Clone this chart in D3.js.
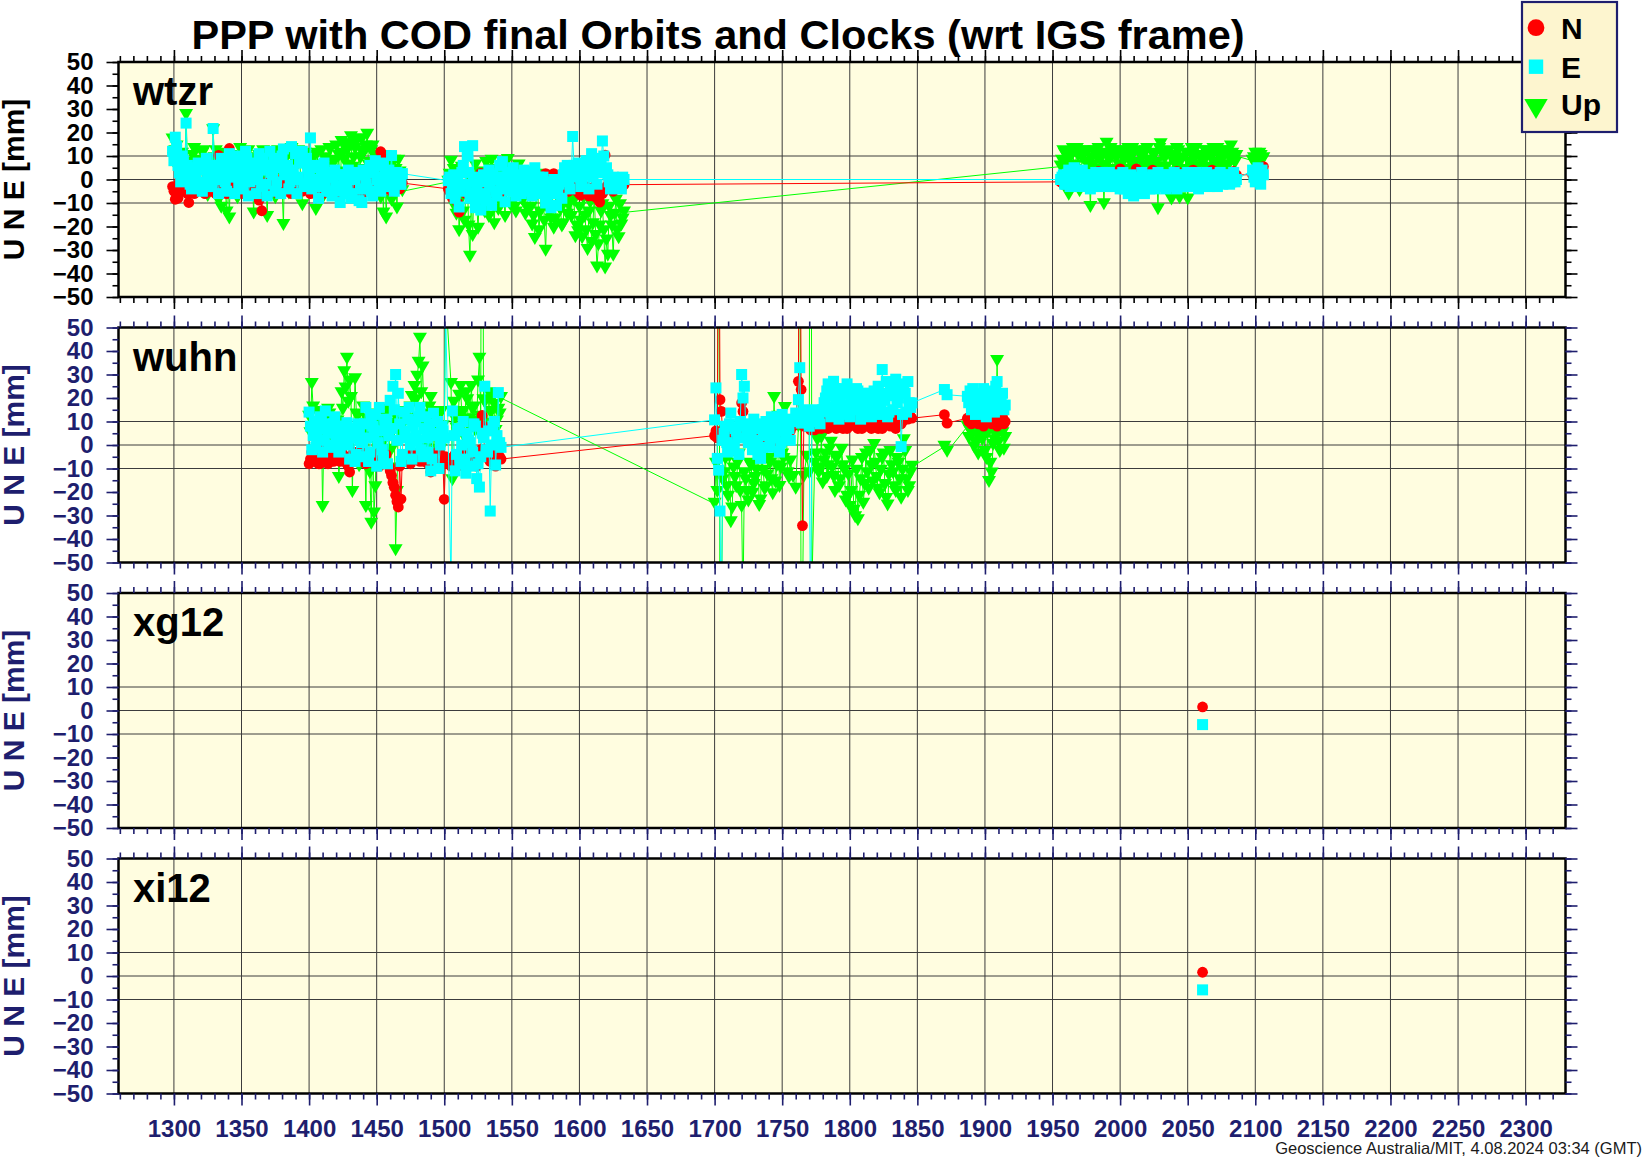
<!DOCTYPE html>
<html>
<head>
<meta charset="utf-8">
<script src="https://cdn.jsdelivr.net/npm/d3@7"></script>
<style>
html,body{margin:0;padding:0;background:#fff;}
svg{display:block;}
</style>
</head>
<body>
<svg id="chart" width="1644" height="1158"></svg>
<script>
// ---------------- data ----------------
const chartTitle = "PPP with COD final Orbits and Clocks (wrt IGS frame)";
const footerText = "Geoscience Australia/MIT, 4.08.2024 03:34 (GMT)";
const stationNames = ["wtzr", "wuhn", "xg12", "xi12"];
const componentNames = ["N", "E", "Up"];
const yAxisTitle = "U N E [mm]";
const xTickLabels = [1300,1350,1400,1450,1500,1550,1600,1650,1700,1750,1800,1850,1900,1950,2000,2050,2100,2150,2200,2250,2300];
const yTickLabels = [-50,-40,-30,-20,-10,0,10,20,30,40,50];
const gridYValues = [-10,0,10];

// wtzr : main epochs
const wtzrDay = [
 1299,1301,1303,1305,1307,1309,1311,1313,1315,1317,
 1319,1321,1323,1325,1327,1329,1331,1333,1335,1337,
 1339,1341,1343,1345,1347,1349,1351,1353,1355,1357,
 1359,1361,1363,1365,1367,1369,1371,1373,1375,1377,
 1379,1381,1383,1385,1387,1389,1391,1393,1395,1397,
 1399,1401,1403,1405,1407,1409,1411,1413,1415,1417,
 1419,1421,1423,1425,1427,1429,1431,1433,1435,1437,
 1439,1441,1443,1445,1447,1449,1451,1453,1455,1457,
 1459,1461,1463,1465,1467,1469,
 1503,1505,1507,1509,1511,1513,1515,1517,1519,1521,
 1523,1525,1527,1529,1531,1533,1535,1537,1539,1541,
 1543,1545,1547,1549,1551,1553,1555,1557,1559,1561,
 1563,1565,1567,1569,1571,1573,1575,1577,1579,1581,
 1583,1585,1587,1589,1591,1593,1595,1597,1599,1601,
 1603,1605,1607,1609,1611,1613,1615,1617,1619,1621,
 1623,1625,1627,1629,1631,1633,
 1956,1958,1960,1962,1964,1966,1968,1970,1972,1974,
 1976,1978,1980,1982,1984,1986,1988,1990,1992,1994,
 1996,1998,2000,2002,2004,2006,2008,2010,2012,2014,
 2016,2018,2020,2022,2024,2026,2028,2030,2032,2034,
 2036,2038,2040,2042,2044,2046,2048,2050,2052,2054,
 2056,2058,2060,2062,2064,2066,2068,2070,2072,2074,
 2076,2078,2080,2082,2084,2086,
 2098,2100,2102,2104,2106
];
const wtzrN = [
 -3,-8.4,-8,-5,-2,-4,-9.8,-3,-6,0,
 -4,-2,-6,1,-5,-3,-6,10.3,-4,-2,
 -6,13.2,-3,0,-5,-2,-6,-1,-4,-3,
 -5,-1,-8.8,-13.3,-3,-6,0,-4,-2,-6,
 -3,1,-5,-2,-6,-1,-4,-3,-5,0,
 -2,-6,-1,-4,-7,-2,0,-5,-3,-6,
 -1,-4,-7,-2,-5,0,-6,-3,-1,-5,
 -6,-2,-4,1,-5,-2,-3,11.8,9,-4,
 -2,-5,-1,-3,-4,-1.5,
 -4,-6,-1,-5,-13.9,-3,-2,-4,-7,-3,
 -5,-1,2.6,0,-2,-6,-3,-1,-4,-2,
 -5,-3,0,-4,-2,-1,-5,-3,0,-4,
 -2,-1,-5,-3,0,-2,2.5,2,-3,2.5,
 -4,-1,-3,-2,-5,-1,-3,-4,-2,-6.7,
 -5,-3,-7,-4,-3,-8,-9.6,-6,10.4,-4,
 -2,-5,-3,-1,-4,-2.2,
 -1,-2,1,2,0,1,-1,2,1,0,
 0,1,-1,1,3.5,1,0,2,1,0,
 1,2,4.5,1,0,0,2,1,4.5,1,
 0,0,2,1,4,1,0,2,1,0,
 2,1,0,3.5,1,0,1,2,0,4,
 0,1,2,1,0,2,4,1,0,1,
 0,1,2,1,3.5,2,
 2,0,3,4,5.5
];
const wtzrE = [
 12,18,6,-1,8,24,2,-4,5,-2,
 4,-5,6,1,-3,21.7,3,-6,9,2,
 -5,11,4,-6,10,0,-4,12,-7,6,
 1,-6,11,-3,5,-7,12,2,-5,9,
 -6,13,3,-4,14,0,-6,8,12,-3,
 5,17.7,-2,6,-8,3,7,-5,1,-7,
 4,-3,-9.8,2,-6,4,-8,0,3,-9,
 -9.8,2,-4,6,-7,8,1,-5,7,-3,
 4,10.2,-5,3,-2,2.5,
 -0.5,-6,2,-4,-11.7,3,14,10,-8,14.4,
 -12,1,-13,2,-9,4,-11,0,-7,6,
 7.6,-9.5,3,-5,5,-7,2,-6,4,-4,
 3,-7,5,-2,-6,1,-10,-1,-12,0,
 -11,-2,-8,5,6,-4,18.3,4,7,-3,
 2,8,-4,11,5,-2,9,16.4,3,2,
 -4,1,-3,0,-4,0,
 0,2,-2,4,-1,5,-3,1,4,-3,
 2,-4,0,3,-3,2,-2,1,3,-3,
 0,2,-4,3,-1,-6,2,-7,1,-5,
 3,-6,0,-4,2,-4,3,-3,1,-4,
 2,-3,3,-4,0,2,-3,3,-3,1,
 3,-4,2,-2,3,-3,0,2,-3,3,
 -2,1,2,-1,3,0,
 4,-1,5,-2,2
];
const wtzrU = [
 17,12,4,-6,10,27.4,2,-5,13,6,
 -3,11,5,-7,8,21,12,-9,-12,4,
 -14,-16.6,9,3,-8,13,-2,7,12,-5,
 -14.5,6,10,-4,2,-16,11,5,-8,12,
 3,-19.4,9,-6,13,4,-3,8,-11,11,
 6,-4,10,-13,2,12,-7,5,13,-2,
 8,3,-9,11,15,6,18,9,16,4,
 17,12,19,7,14,2,10,-8,-14.5,-16.6,
 5,-9,8,-12.3,3,-5,
 -1,7.6,4,-15,-22,5,-18,2,-32.9,-24,
 6,-21,3,-12,7,-16,8,-19,2,-9,
 5,-16,8.3,-11,4,-14,6,-8,3,-12,
 -6,-19.6,-25.3,2,-14,1,-30.3,-9,-17,-21,
 0,-12,-20,-5,-15,-10,-3,-24.6,-22.4,-18,
 -8,-22,-14,-27,-6,-37.4,-20,-11,-37.9,-32.4,
 -16,-32.4,-9,-25,-19.6,-14,
 5.5,12,7,-6.5,11,4,13,-5,9,2,
 12,-11.7,6,10,13,4,-10.5,15.2,8,11,
 3,12,6,10,2,13,7,11,4,12,
 9,3,13,6,11,2,-12.7,15,10,5,
 12,-8.5,7,13,-8,9,4,-8.5,11,6,
 13,3,10,8,12,5,11,7,13,4,
 9,12,6,14,8,10,
 8,11,6,10,9
];

// wtzr : in-between epochs
const wtzrDayFill = [
 1300,1302,1304,1306,1308,1310,1312,1314,1316,1318,
 1320,1322,1324,1326,1328,1330,1332,1334,1336,1338,
 1340,1342,1344,1346,1348,1350,1352,1354,1356,1358,
 1360,1362,1364,1366,1368,1370,1372,1374,1376,1378,
 1380,1382,1384,1386,1388,1390,1392,1394,1396,1398,
 1400,1402,1404,1406,1408,1410,1412,1414,1416,1418,
 1420,1422,1424,1426,1428,1430,1432,1434,1436,1438,
 1440,1442,1444,1446,1448,1450,1452,1454,1456,1458,
 1460,1462,1464,1466,1468,
 1504,1506,1508,1510,1512,1514,1516,1518,1520,1522,
 1524,1526,1528,1530,1532,1534,1536,1538,1540,1542,
 1544,1546,1548,1550,1552,1554,1556,1558,1560,1562,
 1564,1566,1568,1570,1572,1574,1576,1578,1580,1582,
 1584,1586,1588,1590,1592,1594,1596,1598,1600,1602,
 1604,1606,1608,1610,1612,1614,1616,1618,1620,1622,
 1624,1626,1628,1630,1632,
 1957,1959,1961,1963,1965,1967,1969,1971,1973,1975,
 1977,1979,1981,1983,1985,1987,1989,1991,1993,1995,
 1997,1999,2001,2003,2005,2007,2009,2011,2013,2015,
 2017,2019,2021,2023,2025,2027,2029,2031,2033,2035,
 2037,2039,2041,2043,2045,2047,2049,2051,2053,2055,
 2057,2059,2061,2063,2065,2067,2069,2071,2073,2075,
 2077,2079,2081,2083,2085,
 2099,2101,2103,2105
];
const wtzrNFill = [
 -5,-3,-1,-4,-2,-6,-3,0,-4,-2,
 -3,-5,-1,-2,-4,0,-3,-5,-2,-1,
 -4,-2,-5,-1,-3,-4,-2,0,-3,-5,
 -2,-4,-1,-3,-5,-2,0,-4,-3,-1,
 -4,-2,-3,-5,-1,-3,-2,-4,0,-3,
 -5,-2,-4,-1,-3,-6,-2,-4,-3,-1,
 -4,-2,-5,-3,-1,-4,-2,-6,-3,-2,
 -3,-5,-1,-4,-2,-3,-5,-2,-1,-3,
 -2,-4,-1,-3,-2,
 -5,-8,-3,-10,-2,-4,-6,-3,-5,-1,
 0,-2,-4,-1,-3,-5,-2,-4,-1,-3,
 -2,-4,-1,-3,-5,-2,0,-3,-1,-4,
 -2,-3,-1,0,1,-2,-4,-1,-3,-2,
 -3,-1,-4,-2,-5,-3,-4,-5,-6,-4,
 -5,-6,-4,-7,-5,-8,-6,-5,-3,-2,
 -4,-1,-3,-2,-1,
 0,1,-1,1,0,0,1,1,-1,0,
 0,1,1,-1,0,1,0,1,0,0,
 1,0,0,1,1,0,0,1,1,0,
 1,0,0,1,1,0,1,0,1,0,
 0,1,0,1,0,1,0,1,1,0,
 1,0,1,1,0,0,1,0,1,0,
 1,0,1,1,0,
 1,2,3,2
];
const wtzrEFill = [
 8,14,3,10,0,6,-2,4,1,7,
 -1,5,9,2,-3,6,0,4,7,-1,
 5,1,8,3,-3,6,2,9,-1,4,
 7,0,4,9,-2,6,3,8,-1,5,
 10,2,6,-1,4,11,1,7,-2,9,
 2,-4,5,0,-3,4,-1,3,-5,1,
 -3,2,-5,1,-2,3,-6,0,2,-4,
 4,-2,3,-5,5,0,-3,6,2,-1,
 1,-3,2,0,-2,
 1,-3,-8,0,-5,6,-2,3,-6,-1,
 -4,-8,-1,-6,0,-3,2,-5,1,-2,
 -4,0,-2,-4,1,-3,0,-1,-5,2,
 -3,0,-4,1,-5,-3,-8,-4,-6,-2,
 -5,0,2,4,-1,3,6,1,4,0,
 5,2,7,1,8,3,6,10,5,-1,
 -2,0,-3,-1,1,
 1,-2,2,-3,0,3,-1,2,-2,0,
 -1,2,-3,1,-2,3,0,-3,1,-1,
 -2,1,-1,-4,0,-3,-5,0,-2,-4,
 -2,1,-3,0,-2,1,-1,-3,2,-2,
 0,-2,1,-1,2,-3,0,1,-2,0,
 1,-1,0,2,-2,1,-1,0,2,-1,
 0,2,-2,1,-1,
 1,3,0,4
];
const wtzrUFill = [
 9,14,5,11,0,7,3,10,-2,8,
 4,12,1,7,-4,9,5,2,11,-3,
 6,10,0,8,4,-5,11,3,7,1,
 9,-4,5,12,2,8,-1,10,4,6,
 -3,11,5,1,9,7,12,0,6,10,
 3,8,-5,11,6,1,9,4,13,7,
 14,10,16,8,12,15,5,13,17,9,
 11,14,6,12,3,9,-4,7,10,2,
 6,-3,4,8,0,
 2,-6,-12,-3,-9,-14,-4,-20,-8,0,
 -10,-5,2,-14,-7,4,-11,-3,-13,1,
 -7,3,-10,-2,-12,-5,0,-9,-15,-4,
 -12,-16,-7,-22,-3,-18,-10,-14,-6,-17,
 -8,-13,-19,-4,-11,-16,-9,-20,-12,-25,
 -16,-30,-10,-19,-24,-28,-14,-22,-26,-12,
 -20,-15,-22,-11,-17,
 8,11,4,9,13,6,10,3,12,7,
 5,9,12,2,8,11,6,10,13,4,
 9,6,12,8,4,10,13,7,3,11,
 6,12,8,4,10,7,13,5,9,11,
 3,10,6,12,8,4,11,7,13,9,
 5,10,7,12,4,9,13,6,10,8,
 12,5,9,11,7,
 9,7,11,8
];

// wuhn : main epochs
const wuhnDay = [
 1400,1402,1404,1406,1408,1410,1412,1414,1416,1418,
 1420,1422,1424,1426,1428,1430,1432,1434,1436,1438,
 1440,1442,1444,1446,1448,1450,1452,1454,1456,1458,
 1460,1462,1464,1466,1468,1470,1472,1474,1476,1478,
 1480,1482,1484,1486,1488,1490,1492,1494,1496,1498,
 1500,1501,1505,1506,1508,1510,1512,1514,1516,1518,
 1520,1522,1524,1526,1528,1530,1532,1534,1536,1538,
 1540,1542,
 1700,1701,1702,1703,1704,1705,1706,1708,1710,1712,
 1714,1716,1718,1720,1721,1722,1724,1726,1728,1730,
 1732,1734,1736,1738,1740,1742,1744,1746,1748,1750,
 1752,1754,1756,
 1758,1760,1762,1763,1764,1765,1766,1768,1770,1771,1772,
 1774,1776,1778,1780,1782,1784,1786,1788,1790,1792,
 1794,1796,1798,1800,1802,1804,1806,1808,1810,1812,
 1814,1816,1818,1820,1822,1824,1826,1828,1830,1832,
 1834,1836,1838,1840,1842,1844,1846,
 1870,1872,
 1887,1889,1891,1893,1895,1897,1899,1901,1903,1905,
 1907,1909,1911,1913,1915
];
const wuhnN = [
 -8,-3,-7,-5,-8,-2,-6,-8,-4,-7,
 -3,-6,-2,-5,-8,-11.5,-4,-7,-3,-6,
 -2,-8,-5,-3,-8,-6,-9,-4,-7,-8,
 -11,-16,-21.4,-26.4,-23,-7,-5,-7,-3,-6,
 -4,-7,-2,-5,-8,-11.5,-4,-6,-3,-7,
 -23.1,-5,-9,-6,-4,-9,-7,-3,-8,-5,
 -2,-6,-9,-4,12.6,-5,-3,-7,-4,-9,
 -2,-6,
 4,6,3,150,19.3,14.3,5,2,6,1,
 4,3,5,17.9,14.3,4,2,5,1,4,
 3,6,2,5,3,1,4,6,2,5,
 3,4,6,
 8,9.3,27.1,150,23.6,-34.3,8,7.9,10,6.4,8,
 6.4,7,10,8,11,7,9,10,7,9,
 8,11,7,9,10,8,7,9,11,8,
 10,7,9,8,10,7,9,11,8,10,
 7,12,9,11,12,13,11.4,
 12.9,9.3,
 11.4,12,10,13,9,11,8,10,12,9,
 11,8,10,12,10
];
const wuhnE = [
 14,-2,10,3,12,-3,14.5,6,-1,9,
 2,-3,8,1,9.5,-6,5,-7,9,2,
 -5,16,-7,12,4,-9,16,-2,10,-8,
 19,25,30,22,-7,14,3,16,-6,10,
 2,16,-5,12,-3,-11,13.5,4,-10,8,
 3,58,-60,14.5,-11,6,-8,10,-12,2,
 -9,9,-14.3,-17.9,5,25,-3,-28.1,8,-8.5,
 22.3,-1,
 10.7,24.3,-5.7,-10.7,-28.1,-85,2,8,-3,13.6,
 0,6,-4,30,20,25,4,9,-2,7,
 -4,-5.7,5,10,-1,12,3,11,-3,13,
 6,11,2,
 10,13.6,19.3,32.9,9.3,12.1,15,14,8,-80,12,
 15,13,9,15,20,26,12,27.1,18,11,
 24,15,26,12,21,16,23,11,20,14,
 22,12,23,17,13,32.1,19,12,24,15,
 28,20,-0.7,26,14,18,17.9,
 23.6,21.4,
 20.7,23,24,13,21,15,24,12,19,23,
 14,27,18,22,17
];
const wuhnU = [
 12,26,-4,14,2,-26.4,10,15,-5,11,
 3,-14,22,31,36.7,27,-20,28,12,-8,
 16,-26.4,5,-33.5,-29.2,13,-6,10,2,15,
 -10,9,-44.8,12,4,14,-7,11,20.4,24.7,
 29,45.2,33,8,13,20,-3,12,6,14,
 2,65,26,-15,11,5,24.7,14,22,8,
 24.7,16,10,36.7,300,18,9,14,20,6,
 15,20,
 -25,-8,-20,150,-90,-75,-15,-6,-22,-32.9,
 -10,-18,-4,-26.4,-70,-12,-20,-8,-20.7,-14,
 -3,-23.6,-11,-18,-6,-15,20,-9,-17.9,-4,
 15.7,-12,-7,
 -13.6,-18.6,8,150,-80,-70,-13.6,-5,-12,300,-60,
 -8,2,-10,-16.4,-4,-9,1,-13.6,-6,-18,
 -2,-11,-22,-26.4,-7,-30.7,-32,-15,-25,-4,
 -19,-9,0,-14,-21,-6,-17,-25.7,-3,-12,
 -20,-8,-22.9,2,-15,-18,-9.3,
 -0.7,-2.9,
 7.9,6,5,1,-4,4,7,-6,-15.7,-12.1,
 2,35.7,-3,5,3
];

// wuhn : in-between epochs
const wuhnDayFill = [
 1401,1403,1405,1407,1409,1411,1413,1415,1417,1419,
 1421,1423,1425,1427,1429,1431,1433,1435,1437,1439,
 1441,1443,1445,1447,1449,1451,1453,1455,1457,1459,
 1461,1463,1465,1467,1469,1471,1473,1475,1477,1479,
 1481,1483,1485,1487,1489,1491,1493,1495,1497,1499,
 1507,1509,1511,1513,1515,1517,1519,1521,1523,1525,
 1527,1529,1531,1533,1535,1537,1539,1541,
 1707,1709,1711,1713,1715,1717,1719,
 1723,1725,1727,1729,1731,1733,1735,1737,1739,1741,
 1743,1745,1747,1749,1751,1753,1755,
 1775,1777,1779,1781,1783,1785,1787,1789,1791,1793,
 1795,1797,1799,1801,1803,1805,1807,1809,1811,1813,
 1815,1817,1819,1821,1823,1825,1827,1829,1831,1833,
 1835,1837,1839,1841,1843,1845,
 1888,1890,1892,1894,1896,1898,1900,1902,1904,1906,
 1908,1910,1912,1914
];
const wuhnNFill = [
 -6,-3,-5,-8,-4,-6,-3,-7,-5,-4,
 -5,-7,-4,-6,-9,-5,-3,-6,-4,-7,
 -5,-3,-7,-4,-6,-8,-5,-7,-4,-9,
 -13,-18,-24,-9,-5,-6,-4,-8,-5,-4,
 -6,-3,-7,-5,-4,-9,-5,-3,-7,-8,
 -5,-7,-4,-6,-3,-8,-5,-4,-6,-3,
 -2,8,-4,-6,-5,-7,-4,-5,
 3,5,2,4,6,3,4,
 3,5,2,4,6,3,5,2,4,3,
 5,6,2,4,3,5,4,
 8,9,7,10,8,9,11,8,10,9,
 7,10,8,9,11,8,10,7,9,10,
 8,11,9,7,10,8,9,11,10,8,
 9,11,10,12,11,12,
 10,9,12,10,11,9,10,11,10,12,
 9,10,11,9
];
const wuhnEFill = [
 8,4,-1,7,11,2,9,0,5,12,
 6,-2,4,8,0,3,7,-4,5,1,
 9,3,-3,8,13,1,6,-5,11,4,
 7,15,2,9,-4,6,11,0,8,4,
 12,-2,7,3,9,-6,5,10,0,6,
 4,-4,7,0,-6,5,1,-3,8,-8,
 -5,3,-2,6,0,10,4,1,
 5,1,9,-2,7,3,10,
 8,1,6,11,2,9,-1,4,7,0,
 8,5,12,1,9,4,7,
 12,10,14,18,23,16,21,24,14,20,
 17,22,13,19,15,24,18,14,22,17,
 19,15,20,25,16,22,27,14,21,26,
 18,24,13,22,27,16,
 18,15,22,17,14,20,16,22,15,20,
 25,16,20,15
];
const wuhnUFill = [
 5,16,9,-2,12,6,-6,13,3,8,
 10,-4,15,24,18,20,6,13,-9,9,
 4,11,-12,7,-18,2,9,-3,12,6,
 -2,13,-20,8,3,10,-5,16,7,19,
 35,22,12,-1,16,9,4,14,-2,8,
 18,7,21,13,3,19,11,15,6,27,
 12,19,8,22,14,17,10,13,
 -12,-18,-5,-27,-14,-8,-20,
 -15,-24,-9,-17,-11,-26,-5,-19,-13,-8,
 -21,-16,12,-10,-6,8,-14,
 -4,-12,3,-7,-14,-2,-10,-20,-5,-15,
 -9,-24,-13,-20,-28,-11,-22,-6,-17,-12,
 -3,-16,-8,-19,-11,-4,-23,-13,-9,-18,
 -6,-15,-11,-3,-20,-12,
 3,6,-1,4,7,2,-3,5,-8,0,
 4,1,6,-2
];

const xg12Day = [2061];
const xg12N = [1.5];
const xg12E = [-6];
const xg12U = [null];

const xi12Day = [2061];
const xi12N = [1.6];
const xi12E = [-5.9];
const xi12U = [null];

// ---------------- drawing ----------------
const W = 1644, H = 1158;
const FONT = "'Liberation Sans', Arial, Helvetica, sans-serif";
const NAVY = "#1e1e6e";
const PLOT_BG = "#fffde0";
const LEG_BG = "#fdf5cf";
const COLORS = {N: "#ff0000", E: "#00ffff", U: "#00ff00"};
const X0 = 118.5, X1 = 1565.5;
const PANEL_TOPS = [62, 327.5, 593, 858.5];
const PH = 235;

function toRows(day, n, e, u) {
  return day.map((d, k) => ({day: d, N: n[k], E: e[k], U: u[k]}));
}
const stations = [
  {name: stationNames[0], rows: toRows(wtzrDay, wtzrN, wtzrE, wtzrU)
      .concat(toRows(wtzrDayFill, wtzrNFill, wtzrEFill, wtzrUFill))},
  {name: stationNames[1], rows: toRows(wuhnDay, wuhnN, wuhnE, wuhnU)
      .concat(toRows(wuhnDayFill, wuhnNFill, wuhnEFill, wuhnUFill))},
  {name: stationNames[2], rows: toRows(xg12Day, xg12N, xg12E, xg12U)},
  {name: stationNames[3], rows: toRows(xi12Day, xi12N, xi12E, xi12U)}
];
stations.forEach(s => s.rows.sort((a, b) => a.day - b.day));

const x = d3.scaleLinear().domain([1259, 2329.5]).range([X0, X1]);
const minorX = d3.range(1260, 2330, 10);
const minorY = d3.range(-50, 51, 5);

const svg = d3.select("#chart");
svg.append("rect").attr("width", W).attr("height", H).attr("fill", "#fff");
const defs = svg.append("defs");

function triPath(cx, cy, w, h) {
  return `M${cx - w},${cy - h}L${cx + w},${cy - h}L${cx},${cy + h}Z`;
}

stations.forEach((st, i) => {
  const top = PANEL_TOPS[i], bot = top + PH;
  const y = d3.scaleLinear().domain([-50, 50]).range([bot, top]);
  const ink = i === 0 ? "#000" : NAVY;
  const g = svg.append("g");

  g.append("rect").attr("x", X0).attr("y", top).attr("width", X1 - X0).attr("height", PH).attr("fill", PLOT_BG);
  defs.append("clipPath").attr("id", "clip" + i)
    .append("rect").attr("x", X0).attr("y", top).attr("width", X1 - X0).attr("height", PH);

  // grid
  g.append("g").selectAll("line").data(xTickLabels).join("line")
    .attr("x1", d => x(d)).attr("x2", d => x(d)).attr("y1", top).attr("y2", bot)
    .attr("stroke", "#3c3c3c").attr("stroke-width", 1);
  g.append("g").selectAll("line").data(gridYValues).join("line")
    .attr("x1", X0).attr("x2", X1).attr("y1", d => y(d)).attr("y2", d => y(d))
    .attr("stroke", "#3c3c3c").attr("stroke-width", 1);

  // series
  const rows = st.rows;
  const plot = g.append("g").attr("clip-path", `url(#clip${i})`);
  ["U", "N", "E"].forEach(c => {
    const pts = rows.filter(r => r[c] != null && !isNaN(r[c]));
    if (!pts.length) return;
    const line = d3.line().x(r => x(r.day)).y(r => y(r[c]));
    plot.append("path").attr("d", line(pts)).attr("fill", "none")
      .attr("stroke", COLORS[c]).attr("stroke-width", 1);
    const mg = plot.append("g").attr("fill", COLORS[c]);
    if (c === "N") {
      mg.selectAll("circle").data(pts).join("circle")
        .attr("cx", r => x(r.day)).attr("cy", r => y(r.N)).attr("r", 5.4);
    } else if (c === "E") {
      mg.selectAll("rect").data(pts).join("rect")
        .attr("x", r => x(r.day) - 5.5).attr("y", r => y(r.E) - 5.5)
        .attr("width", 11).attr("height", 11);
    } else {
      mg.selectAll("path").data(pts).join("path")
        .attr("d", r => triPath(x(r.day), y(r.U), 7, 6));
    }
  });

  // frame
  g.append("rect").attr("x", X0).attr("y", top).attr("width", X1 - X0).attr("height", PH)
    .attr("fill", "none").attr("stroke", "#000").attr("stroke-width", 2.5);

  const styleAxis = sel => {
    sel.select(".domain").remove();
    sel.selectAll(".tick line").attr("stroke", ink).attr("stroke-width", 1.6);
    sel.selectAll(".tick text").attr("fill", ink).attr("font-family", FONT)
      .attr("font-size", 24).attr("font-weight", "bold");
  };
  const none = () => "";
  // bottom
  g.append("g").attr("transform", `translate(0,${bot})`)
    .call(d3.axisBottom(x).tickValues(minorX).tickSize(6).tickFormat(none)).call(styleAxis);
  g.append("g").attr("transform", `translate(0,${bot})`)
    .call(d3.axisBottom(x).tickValues(xTickLabels).tickSize(12).tickPadding(14)
      .tickFormat(i === 3 ? d => String(d) : none)).call(styleAxis);
  // top
  g.append("g").attr("transform", `translate(0,${top})`)
    .call(d3.axisTop(x).tickValues(minorX).tickSize(6).tickFormat(none)).call(styleAxis);
  g.append("g").attr("transform", `translate(0,${top})`)
    .call(d3.axisTop(x).tickValues(xTickLabels).tickSize(12).tickFormat(none)).call(styleAxis);
  // left
  g.append("g").attr("transform", `translate(${X0},0)`)
    .call(d3.axisLeft(y).tickValues(minorY).tickSize(6).tickFormat(none)).call(styleAxis);
  g.append("g").attr("transform", `translate(${X0},0)`)
    .call(d3.axisLeft(y).tickValues(yTickLabels).tickSize(12).tickPadding(13)
      .tickFormat(d => d < 0 ? "\u2212" + (-d) : String(d))).call(styleAxis);
  // right
  g.append("g").attr("transform", `translate(${X1},0)`)
    .call(d3.axisRight(y).tickValues(minorY).tickSize(6).tickFormat(none)).call(styleAxis);
  g.append("g").attr("transform", `translate(${X1},0)`)
    .call(d3.axisRight(y).tickValues(yTickLabels).tickSize(12).tickFormat(none)).call(styleAxis);

  // y-axis title
  g.append("text")
    .attr("transform", `translate(24,${(top + bot) / 2}) rotate(-90)`)
    .attr("text-anchor", "middle").attr("font-family", FONT).attr("font-weight", "bold")
    .attr("font-size", 30).attr("fill", ink).text(yAxisTitle);

  // station name
  g.append("text").attr("x", 133).attr("y", top + 43)
    .attr("font-family", FONT).attr("font-weight", "bold").attr("font-size", 40)
    .attr("fill", "#000").text(st.name);
});

// title
svg.append("text").attr("x", 718).attr("y", 49).attr("text-anchor", "middle")
  .attr("font-family", FONT).attr("font-weight", "bold").attr("font-size", 41.5)
  .attr("fill", "#000").text(chartTitle);

// legend
const leg = svg.append("g");
leg.append("rect").attr("x", 1522).attr("y", 2).attr("width", 95).attr("height", 130)
  .attr("fill", LEG_BG).attr("stroke", NAVY).attr("stroke-width", 2.2);
const lx = 1536;
leg.append("circle").attr("cx", lx).attr("cy", 27.7).attr("r", 8.4).attr("fill", COLORS.N);
leg.append("rect").attr("x", lx - 7.2).attr("y", 59.5).attr("width", 14.4).attr("height", 14.4).attr("fill", COLORS.E);
leg.append("path").attr("d", triPath(lx, 109, 11.7, 10)).attr("fill", COLORS.U);
const legTextY = [39, 78, 115];
componentNames.forEach((t, k) => {
  leg.append("text").attr("x", 1561).attr("y", legTextY[k])
    .attr("font-family", FONT).attr("font-weight", "bold").attr("font-size", 30)
    .attr("fill", "#000").text(t);
});

// footer
svg.append("text").attr("x", 1642).attr("y", 1154).attr("text-anchor", "end")
  .attr("font-family", FONT).attr("font-size", 16.5).attr("fill", "#1a1a1a").text(footerText);
</script>
</body>
</html>
